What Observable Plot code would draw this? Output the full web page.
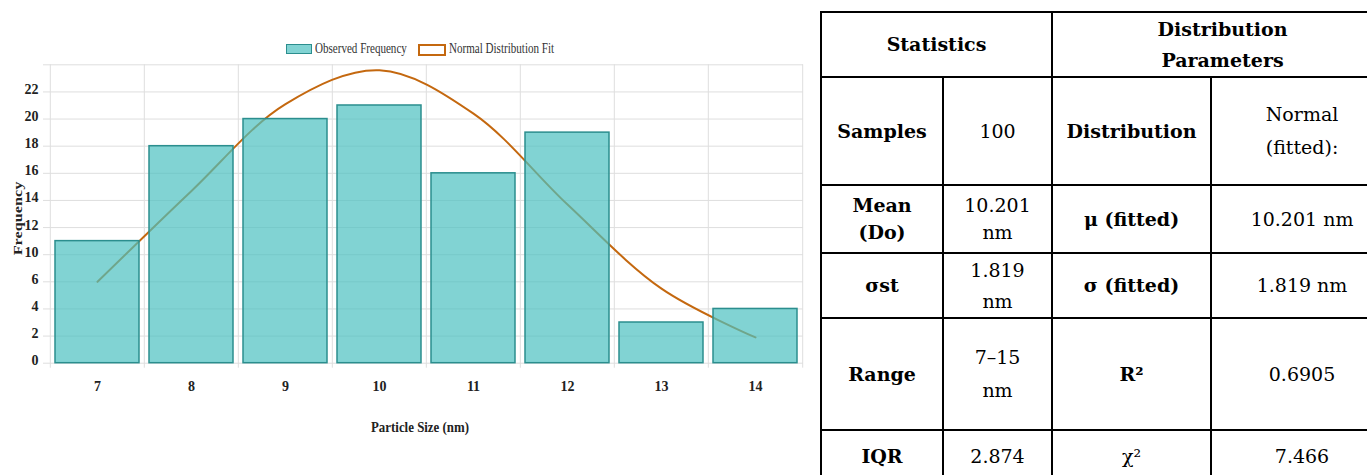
<!DOCTYPE html>
<html><head><meta charset="utf-8">
<script src="https://cdn.jsdelivr.net/npm/d3@7"></script>
<script src="https://cdn.jsdelivr.net/npm/@observablehq/plot@0.6"></script>
<style>
html,body{margin:0;padding:0;background:#fff;}
#wrap{position:relative;width:1367px;height:475px;overflow:hidden;background:#fff;}
#chart{position:absolute;left:0;top:0;width:815px;}
#legend{position:relative;height:60px;font-family:"Liberation Serif",serif;font-size:14px;color:#333;}
.lg{position:absolute;top:42px;height:14px;}
.box{position:absolute;top:2px;width:24px;height:8px;}
.lt{position:absolute;top:-1px;white-space:nowrap;transform:scaleX(0.79);transform-origin:left center;line-height:16px;}
#tbl{position:absolute;left:820px;top:11px;border-collapse:collapse;table-layout:fixed;font-family:"DejaVu Serif",serif;font-size:19px;color:#000;}
#tbl td{border:2px solid #000;text-align:center;vertical-align:middle;padding:0;line-height:28px;}
#tbl td.b{font-weight:bold;}
</style></head>
<body><div id="wrap"><div id="chart"><div id="legend"></div></div><table id="tbl"></table></div>
<script>
// ---- data ----
const sizes = ["7","8","9","10","11","12","13","14"];
const observed = [11, 18, 20, 21, 16, 19, 3, 4];
const normalFit = [6.0, 14.7, 21.1, 23.6, 20.4, 13.7, 5.5, 1.9];
const yTicks = [0, 2, 4, 6, 10, 12, 14, 16, 18, 20, 22, 24];
const yTickLabels = ["0","2","4","6","10","12","14","16","18","20","22",""];
const seriesNames = ["Observed Frequency", "Normal Distribution Fit"];
const xTitle = "Particle Size (nm)";
const yTitle = "Frequency";

const headers = ["Statistics", "Distribution Parameters"];
const statLabels = [["Samples"], ["Mean", "(Do)"], ["σst"], ["Range"], ["IQR"]];
const statValues = [["100"], ["10.201", "nm"], ["1.819", "nm"], ["7–15", "nm"], ["2.874"]];
const paramLabels = [["Distribution"], ["μ (fitted)"], ["σ (fitted)"], ["R²"], ["χ²"]];
const paramValues = [["Normal", "(fitted):"], ["10.201 nm"], ["1.819 nm"], ["0.6905"], ["7.466"]];

// ---- chart ----
const W = 815, H = 415, mL = 48, mR = 12, mT = 4.3, mB = 112.3;
const pIn = 0.11, pOut = 0.055;
const bandStep = (W - mL - mR) / (sizes.length - pIn + 2 * pOut);
const teal = "rgb(75,192,192)", tealStroke = "#2b8e8e", orange = "#c4680f", grid = "#dedede";

// the printed axis skips the label "8": labels map onto evenly spaced gridlines
const toGrid = d3.scaleLinear().domain([0, 6, 10, 24]).range([0, 6, 8, 22]);
const gridTicks = yTicks.map(toGrid);

const data = sizes.map((s, i) => ({size: s, obs: observed[i], fit: normalFit[i]}));

const chart = Plot.plot({
  width: W, height: H, marginLeft: mL, marginRight: mR, marginTop: mT, marginBottom: mB,
  style: {fontFamily: '"Liberation Serif", serif', background: "white", overflow: "visible", color: "#222"},
  x: {type: "band", domain: sizes, paddingInner: pIn, paddingOuter: pOut, label: null},
  y: {type: "linear", domain: [0, 22], label: null},
  marks: [
    Plot.ruleY(gridTicks, {stroke: grid, strokeWidth: 1, insetLeft: -5}),
    Plot.ruleX(sizes, {stroke: grid, strokeWidth: 1, dx: -bandStep / 2, insetBottom: -5}),
    Plot.ruleX([sizes[sizes.length - 1]], {stroke: grid, strokeWidth: 1, dx: bandStep / 2, insetBottom: -5}),
    Plot.lineY(data, {x: "size", y: d => toGrid(d.fit), stroke: orange, strokeWidth: 2, curve: "catmull-rom"}),
    Plot.barY(data, {x: "size", y: d => toGrid(d.obs), fill: teal, fillOpacity: 0.7, stroke: tealStroke, strokeWidth: 1.5}),
    Plot.axisY({ticks: gridTicks, tickFormat: d => yTickLabels[gridTicks.indexOf(d)], tickSize: 0, tickPadding: 10,
      fontWeight: "bold", fontSize: 14, color: "#222", dy: -2.5, label: null}),
    Plot.axisX({tickSize: 0, tickPadding: 18, fontWeight: "bold", fontSize: 14, color: "#222", label: null}),
    Plot.text([xTitle], {frameAnchor: "bottom", dy: 69, dx: -6, fontWeight: "bold", fontSize: 14, fill: "#222"}),
    Plot.text([yTitle], {frameAnchor: "left", textAnchor: "middle", rotate: -90, dx: -31, dy: 4.5,
      fontWeight: "bold", fontSize: 14, fill: "#222"})
  ]
});
document.getElementById("chart").appendChild(chart);
// the reference's titles look condensed: stretch / squeeze them
d3.select(chart).selectAll("text").each(function () {
  const t = this.textContent;
  if (t === xTitle) d3.select(this).attr("textLength", 98).attr("lengthAdjust", "spacingAndGlyphs");
  if (t === yTitle) {
    const tr = this.getAttribute("transform") || "";
    this.setAttribute("transform", tr + " scale(1.16,0.9)");
  }
});

// legend
const legend = document.getElementById("legend");
const legendPos = [{box: 286, text: 315}, {box: 418, text: 449}];
seriesNames.forEach((name, i) => {
  const it = document.createElement("div");
  it.className = "lg";
  it.style.left = "0px";
  const b = document.createElement("div");
  b.className = "box";
  b.style.left = legendPos[i].box + "px";
  if (i === 0) { b.style.background = "rgba(75,192,192,0.7)"; b.style.border = "1.5px solid " + tealStroke; }
  else { b.style.background = "#fff"; b.style.border = "2px solid " + orange; }
  const t = document.createElement("div");
  t.className = "lt";
  t.style.left = legendPos[i].text + "px";
  t.textContent = name;
  it.appendChild(b); it.appendChild(t);
  legend.appendChild(it);
});

// table
const colW = [122, 109, 159, 182];
const rowH = [65, 108, 68, 65, 112, 52];
const rowLH = [31, 33, 27, 31, 33, 28];
const tbl = document.getElementById("tbl");
tbl.style.width = d3.sum(colW) + "px";
const cg = document.createElement("colgroup");
colW.forEach(w => { const c = document.createElement("col"); c.style.width = w + "px"; cg.appendChild(c); });
tbl.appendChild(cg);
function cell(tr, lines, bold, span, lh) {
  const td = document.createElement("td");
  if (bold) td.className = "b";
  if (span) td.colSpan = span;
  td.style.lineHeight = lh + "px";
  lines.forEach((l, k) => { if (k) td.appendChild(document.createElement("br")); td.appendChild(document.createTextNode(l)); });
  tr.appendChild(td);
  return td;
}
const hr = document.createElement("tr"); hr.style.height = rowH[0] + "px";
cell(hr, [headers[0]], true, 2, rowLH[0]);
cell(hr, ["Distribution", "Parameters"], true, 2, rowLH[0]);
tbl.appendChild(hr);
statLabels.forEach((lab, i) => {
  const tr = document.createElement("tr"); tr.style.height = rowH[i + 1] + "px";
  const lh = rowLH[i + 1];
  cell(tr, lab, true, 0, lh);
  cell(tr, statValues[i], false, 0, lh);
  cell(tr, paramLabels[i], i !== 4, 0, lh);
  cell(tr, paramValues[i], false, 0, lh);
  tbl.appendChild(tr);
});
</script></body></html>
